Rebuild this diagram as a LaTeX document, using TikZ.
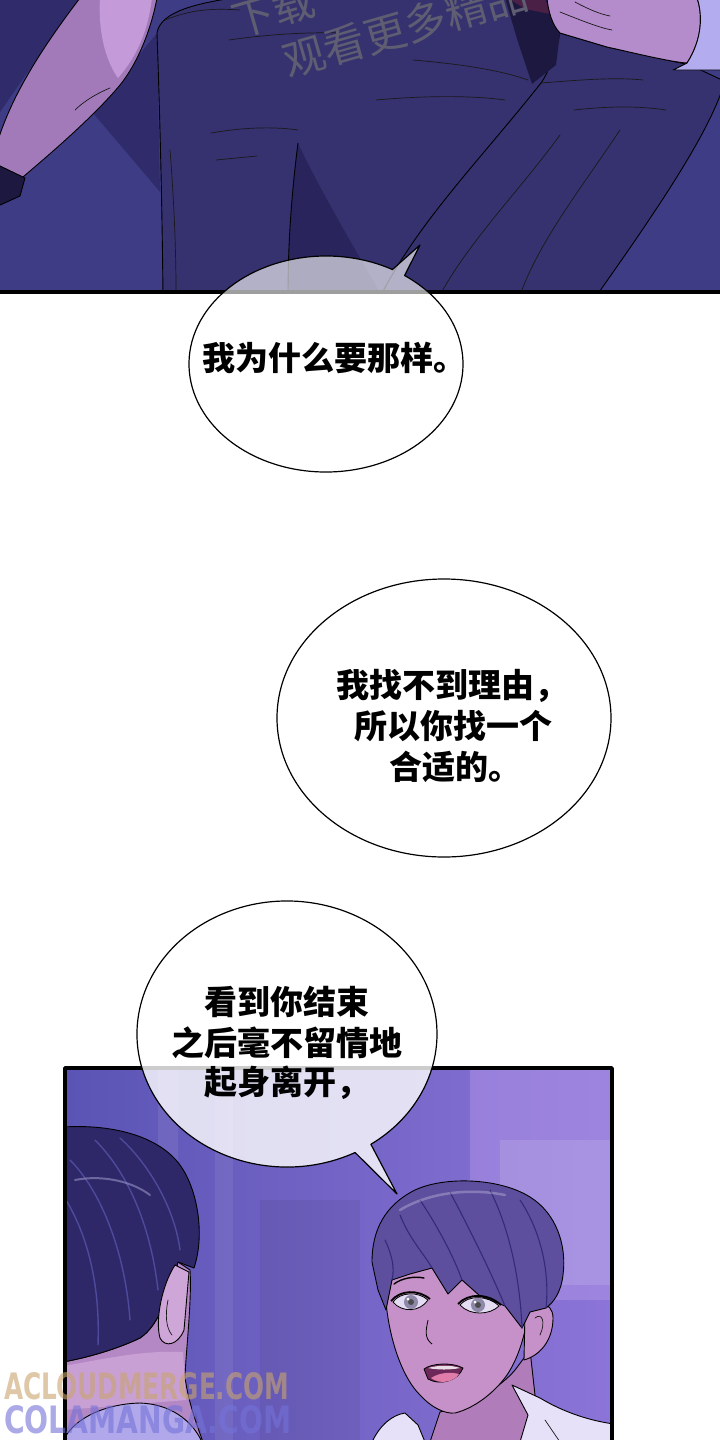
\documentclass[tikz,border=0pt]{standalone}
\usepackage{fontspec}
\usepackage{graphicx}
\newfontfamily\cjk{Noto Sans CJK SC}
\newfontfamily\wmfont{DejaVu Sans}
\definecolor{pbg}{HTML}{3F3C86}
\definecolor{pbgdark}{HTML}{302C6C}
\definecolor{pants}{HTML}{36326F}
\definecolor{pantsdk}{HTML}{29255C}
\definecolor{armc}{HTML}{A27ABA}
\definecolor{armhi}{HTML}{C49BD8}
\definecolor{handc}{HTML}{B48CCB}
\definecolor{cuffc}{HTML}{B3ACEE}
\definecolor{pblack}{HTML}{1C1840}
\definecolor{tiec}{HTML}{4A2046}
\definecolor{wmgray}{HTML}{5E5D72}
\definecolor{bgL}{HTML}{5A54B4}
\definecolor{bgR}{HTML}{8C74D8}
\definecolor{glow}{HTML}{AC92E6}
\definecolor{hairA}{HTML}{2E2868}
\definecolor{hairAs}{HTML}{4E4A9C}
\definecolor{skinA}{HTML}{B488C4}
\definecolor{skinAl}{HTML}{CFA6D8}
\definecolor{shirtA}{HTML}{B0A8EA}
\definecolor{hairB}{HTML}{5E4F9E}
\definecolor{hairBd}{HTML}{342A7A}
\definecolor{skinB}{HTML}{C690C8}
\definecolor{skinBd}{HTML}{B07CBA}
\definecolor{shirtB}{HTML}{E6E0F8}
\definecolor{mouthc}{HTML}{6C2858}
\definecolor{tonguec}{HTML}{E07CAA}
\definecolor{irisc}{HTML}{8E88A8}
\definecolor{eyew}{HTML}{E4DCF2}
\definecolor{wmtan}{HTML}{C9A46E}
\definecolor{wmblue}{HTML}{7472D8}
\tikzset{
  ink/.style={draw=black, line width=0.9pt},
  fold/.style={draw=black!90, line width=0.7pt, line cap=round},
  strandA/.style={draw=hairAs, line width=1.4pt, line cap=round},
  strandB/.style={draw=hairBd, line width=1.1pt, line cap=round},
  bubbleline/.style={draw=black, line width=1.2pt},
  speech/.style={font=\cjk\bfseries\fontsize{33}{41}\selectfont, text=black, inner sep=0pt, anchor=base},
  wmark/.style={font=\cjk\fontsize{42}{42}\selectfont, text=wmgray, inner sep=0pt, anchor=west, rotate=16}
}
\begin{document}
\begin{tikzpicture}[x=1pt,y=-1pt,line join=round]
\useasboundingbox (0,0) rectangle (720,1440);
\fill[white] (0,0) rectangle (720,1440);

% ================= top panel =================
\begin{scope}
\clip (0,0) rectangle (720,292);
\fill[pbg] (0,0) rectangle (720,292);
\fill[pbgdark] (-2,-2) -- (80,-2) -- (43,50) -- (-2,115) -- cycle;
\fill[pbgdark] (143,50) -- (93,113) -- (160,192) -- (157,33) -- cycle;
% left arm
\filldraw[fill=armc, ink] (80,-2) -- (157,-2) .. controls (152,25) and (140,60) .. (120,85) .. controls (95,115) and (55,150) .. (17,182) -- (-2,180) -- (-2,140) .. controls (8,110) and (25,70) .. (80,-2) -- cycle;
\fill[armhi] (100,-2) -- (152,-2) .. controls (148,30) and (138,55) .. (118,78) .. controls (105,60) and (98,30) .. (100,-2) -- cycle;
\draw[fold] (75,110) .. controls (85,100) and (100,92) .. (110,88);
\filldraw[fill=pblack, ink] (-2,165) -- (25,178) -- (20,196) -- (-2,206) -- cycle;
% pants
\filldraw[fill=pants, ink] (157,33) .. controls (160,15) and (185,5) .. (233,-2) -- (505,-2) -- (550,17) -- (560,33) -- (607,47) -- (653,57) -- (690,65) -- (722,80) -- (722,90) .. controls (705,140) and (650,220) .. (597,295) -- (163,295) .. controls (162,200) and (160,120) .. (157,33) -- cycle;
\fill[pantsdk] (298,143) .. controls (320,190) and (350,240) .. (381,295) -- (288,295) .. controls (288,240) and (292,190) .. (298,143) -- cycle;
\draw[ink] (298,143) .. controls (292,190) and (288,240) .. (288,295);
\draw[ink] (381,295) .. controls (420,220) and (480,160) .. (541,83) .. controls (550,70) and (556,50) .. (560,33);
% shirt / hand top right
\fill[pblack] (505,-2) -- (547,-2) -- (560,33) -- (556,65) -- (532,84) -- (518,42) -- cycle;
\fill[tiec] (508,-2) -- (545,-2) -- (550,14) -- (525,9) -- cycle;
\filldraw[fill=handc, ink] (547,-2) -- (697,-2) .. controls (703,15) and (702,40) .. (687,63) .. controls (670,62) and (630,52) .. (607,47) -- (560,33) .. controls (552,25) and (548,10) .. (547,-2) -- cycle;
\filldraw[fill=cuffc, ink] (697,-2) -- (722,-2) -- (722,70) -- (673,70) -- (687,63) .. controls (702,40) and (703,15) .. (697,-2) -- cycle;
\draw[fold] (560,12) .. controls (580,20) and (600,28) .. (612,30);
\draw[fold] (575,2) .. controls (590,10) and (600,14) .. (610,16);
% folds
\draw[fold] (229,40) .. controls (270,34) and (310,32) .. (344,33);
\draw[fold] (413,60) .. controls (460,64) and (500,70) .. (528,80);
\draw[fold] (376,100) .. controls (420,96) and (470,95) .. (505,100);
\draw[fold] (211,133) .. controls (240,128) and (270,126) .. (298,130);
\draw[fold] (216,160) -- (257,156);
\draw[fold] (541,83) .. controls (580,80) and (615,77) .. (643,80);
\draw[fold] (574,110) .. controls (610,106) and (640,106) .. (666,110);
\draw[fold] (620,130) .. controls (580,190) and (540,240) .. (520,295);
\draw[fold] (560,135) .. controls (520,190) and (470,240) .. (440,295);
\draw[fold] (170,150) .. controls (174,200) and (176,250) .. (176,290);
\draw[fold] (165,20) .. controls (190,10) and (210,8) .. (240,10);
% watermark
\node[wmark] (wm1) at (233,22) {下载};
\node[wmark] (wm2) at (284,62) {观看更多精品};
\end{scope}
\draw[line width=4pt] (-2,292) -- (722,292);

% bubble 1
\path[fill=white, fill opacity=0.62, bubbleline] (326,364) ++(-55:137 and 108) arc[start angle=-55, end angle=299, x radius=137, y radius=108] -- (420,245) -- cycle;
\node[speech] (t1) at (334,370) {我为什么要那样。};

% bubble 2
\draw[fill=white, bubbleline] (444,718) ellipse[x radius=167, y radius=139];
\node[speech] (t2a) at (452,697) {我找不到理由，};
\node[speech] (t2b) at (453,738) {所以你找一个};
\node[speech] (t2c) at (455,779) {合适的。};

% ================= bottom panel =================
\begin{scope}
\clip (65,1068) rectangle (612,1440);
\shade[left color=bgL, right color=bgR] (65,1068) rectangle (612,1440);
\fill[glow, opacity=0.55] (470,1068) rectangle (612,1300);
\fill[white, opacity=0.12] (500,1140) rectangle (612,1285);
\fill[white, opacity=0.08] (158,1068) rectangle (178,1440);
\fill[white, opacity=0.07] (215,1068) rectangle (233,1440);
\fill[black, opacity=0.06] (260,1200) rectangle (360,1440);
% left character
\filldraw[fill=skinA, ink] (63,1362) .. controls (85,1358) and (115,1350) .. (140,1338) .. controls (160,1325) and (170,1290) .. (178,1262) -- (190,1270) .. controls (192,1300) and (186,1350) .. (185,1377) .. controls (188,1400) and (195,1420) .. (203,1442) -- (63,1442) -- cycle;
\fill[skinAl, opacity=0.8] (63,1366) .. controls (100,1360) and (140,1350) .. (183,1352) -- (186,1400) -- (63,1410) -- cycle;
\filldraw[fill=hairA, ink] (63,1127) .. controls (110,1124) and (158,1135) .. (180,1165) .. controls (198,1190) and (205,1235) .. (194,1268) -- (178,1262) .. controls (170,1290) and (160,1325) .. (140,1338) .. controls (115,1350) and (85,1358) .. (63,1362) -- cycle;
\draw[strandA] (95,1140) .. controls (125,1170) and (150,1220) .. (158,1290);
\draw[strandA] (120,1138) .. controls (150,1165) and (175,1210) .. (180,1250);
\draw[strandA] (70,1160) .. controls (100,1190) and (125,1250) .. (130,1320);
\draw[strandA] (66,1200) .. controls (90,1240) and (100,1290) .. (98,1345);
\draw[draw=hairAs!60!white, line width=2pt, line cap=round, opacity=0.6] (75,1180) .. controls (100,1175) and (130,1180) .. (150,1195);
\filldraw[fill=skinAl, ink] (175,1265) .. controls (162,1285) and (155,1320) .. (160,1338) .. controls (165,1348) and (178,1345) .. (184,1330) -- (189,1272) -- cycle;
\draw[fold] (168,1300) .. controls (165,1315) and (166,1328) .. (172,1335);
\filldraw[fill=shirtA, ink] (63,1442) .. controls (70,1422) and (100,1404) .. (140,1403) .. controls (170,1404) and (192,1420) .. (202,1442) -- cycle;
% right character
\filldraw[fill=skinBd, ink] (440,1412) .. controls (470,1405) and (500,1388) .. (515,1370) -- (530,1350) -- (535,1395) -- (555,1442) -- (430,1442) -- cycle;
\filldraw[fill=skinB, ink] (385,1285) .. controls (386,1330) and (400,1375) .. (420,1395) .. controls (432,1408) and (445,1414) .. (455,1413) .. controls (475,1408) and (495,1392) .. (507,1375) .. controls (517,1360) and (524,1340) .. (528,1315) -- (530,1280) -- (400,1260) -- cycle;
\filldraw[fill=skinB, ink] (525,1312) .. controls (533,1300) and (553,1300) .. (553,1318) .. controls (553,1336) and (544,1354) .. (524,1360) -- cycle;
\draw[fold] (535,1318) .. controls (542,1312) and (546,1322) .. (540,1335);
\filldraw[fill=hairB, ink] (372,1262) .. controls (372,1230) and (385,1205) .. (415,1190) .. controls (445,1176) and (500,1178) .. (530,1197) .. controls (556,1213) and (567,1245) .. (563,1275) .. controls (561,1292) and (554,1302) .. (546,1308) -- (530,1312) -- (522,1328) -- (505,1306) -- (480,1296) -- (462,1280) -- (448,1294) -- (432,1268) -- (410,1274) -- (392,1280) -- (386,1310) -- (378,1290) -- cycle;
\draw[strandB] (420,1200) .. controls (440,1230) and (455,1260) .. (462,1280);
\draw[strandB] (450,1192) .. controls (470,1230) and (490,1270) .. (505,1306);
\draw[strandB] (400,1215) .. controls (410,1240) and (425,1255) .. (432,1268);
\draw[strandB] (490,1190) .. controls (510,1230) and (520,1280) .. (522,1328);
\draw[strandB] (520,1200) .. controls (540,1230) and (550,1270) .. (546,1308);
\draw[strandB] (385,1240) .. controls (392,1255) and (395,1268) .. (392,1280);
\draw[draw=white, line width=2.5pt, line cap=round, opacity=0.25] (400,1210) .. controls (430,1192) and (470,1188) .. (505,1195);
% eyes
\filldraw[fill=eyew, draw=black, line width=0.8pt] (393,1302) .. controls (400,1292) and (418,1291) .. (428,1300) .. controls (420,1312) and (402,1313) .. (393,1302) -- cycle;
\fill[irisc] (411,1302) circle[radius=7];
\fill[black!70] (411,1302) circle[radius=3];
\fill[white] (408,1299) circle[radius=1.5];
\draw[line width=1.8pt] (391,1301) .. controls (400,1290) and (418,1289) .. (430,1299);
\filldraw[fill=eyew, draw=black, line width=0.8pt] (460,1305) .. controls (468,1295) and (488,1295) .. (499,1306) .. controls (490,1315) and (470,1316) .. (460,1305) -- cycle;
\fill[irisc] (478,1305) circle[radius=7];
\fill[black!70] (478,1305) circle[radius=3];
\fill[white] (475,1302) circle[radius=1.5];
\draw[line width=1.8pt] (458,1304) .. controls (468,1293) and (488,1293) .. (501,1305);
\draw[line width=1.4pt, line cap=round] (394,1284) .. controls (402,1278) and (414,1276) .. (424,1278);
% nose and mouth
\draw[line width=0.8pt] (428,1320) .. controls (426,1330) and (424,1338) .. (432,1344);
\filldraw[fill=mouthc, draw=black, line width=0.8pt] (424,1369) .. controls (432,1363) and (452,1362) .. (463,1368) .. controls (458,1381) and (440,1386) .. (428,1379) -- cycle;
\fill[tonguec] (431,1378) .. controls (440,1372) and (452,1372) .. (459,1374) .. controls (454,1382) and (440,1385) .. (431,1378) -- cycle;
\fill[white, opacity=0.85] (428,1368) .. controls (438,1365) and (452,1365) .. (460,1368) .. controls (450,1370) and (438,1370) .. (428,1368) -- cycle;
% shirt
\filldraw[fill=shirtB, ink] (372,1442) .. controls (380,1425) and (392,1415) .. (405,1413) -- (418,1425) -- (425,1442) -- cycle;
\filldraw[fill=shirtB, ink] (512,1385) -- (540,1398) .. controls (560,1410) and (585,1420) .. (614,1424) -- (614,1442) -- (520,1442) -- (528,1415) -- cycle;
\draw[fold] (545,1420) -- (560,1442);
\end{scope}
\draw[line width=3.5pt] (65,1445) -- (65,1068) -- (612,1068) -- (612,1445);

% bubble 3
\path[fill=white, fill opacity=0.8, bubbleline] (287,1034) ++(63:150 and 133) arc[start angle=63, end angle=416, x radius=150, y radius=133] -- (397,1194) -- cycle;
\node[speech] (t3a) at (287,1014) {看到你结束};
\node[speech] (t3b) at (287,1055) {之后毫不留情地};
\node[speech] (t3c) at (287,1094) {起身离开，};

% bottom watermark
\node[inner sep=0pt, anchor=north west, text=wmtan, opacity=0.6] (wm3) at (4,1372) {\resizebox{285pt}{27pt}{\wmfont\bfseries ACLOUDMERGE.COM}};
\node[inner sep=0pt, anchor=north west, text=wmblue, opacity=0.6] (wm4) at (4,1405) {\resizebox{287pt}{28pt}{\wmfont\bfseries COLAMANGA.COM}};
\end{tikzpicture}
\end{document}
